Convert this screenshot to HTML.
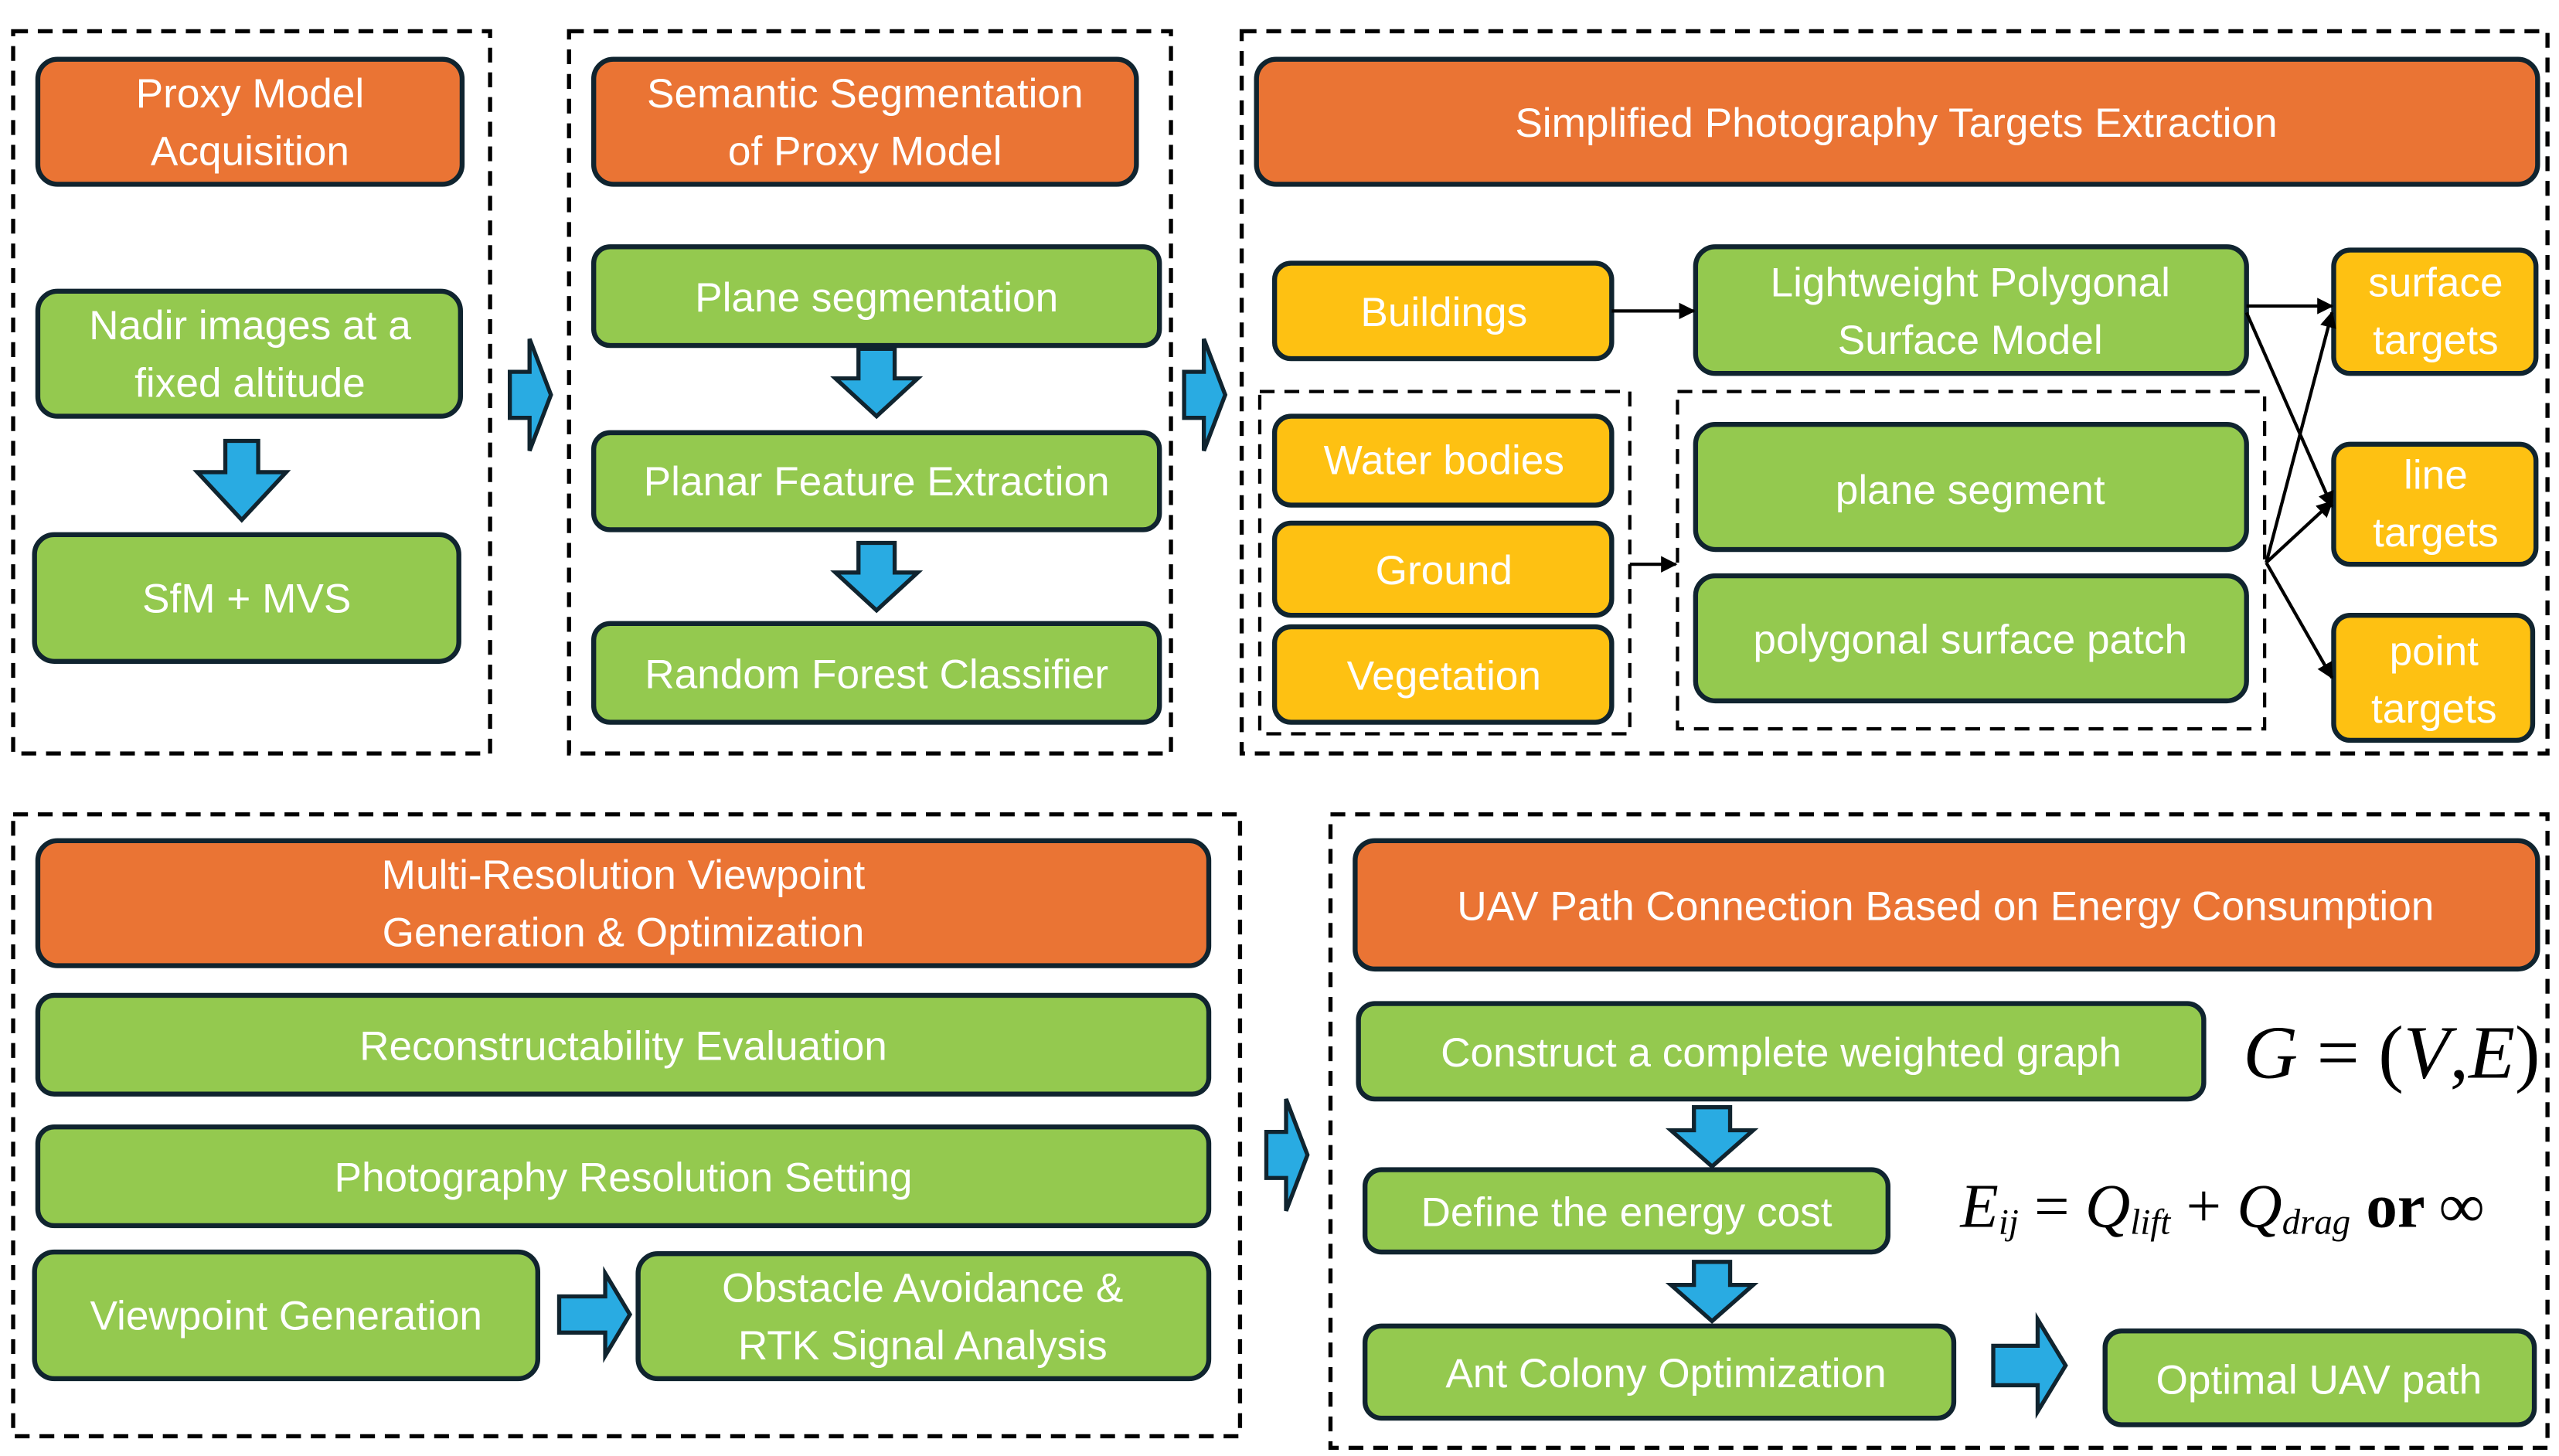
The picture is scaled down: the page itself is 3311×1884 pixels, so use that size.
<!DOCTYPE html>
<html><head><meta charset="utf-8"><style>
html,body{margin:0;padding:0;background:#fff;}
svg{display:block;}
text{font-family:"Liberation Sans",sans-serif;fill:#fff;font-size:25px;text-anchor:middle;dominant-baseline:central;}
.m{font-family:"Liberation Serif",serif;fill:#000;text-anchor:start;}
</style></head><body>
<svg width="3311" height="1884" viewBox="0 0 1556 885" preserveAspectRatio="none" xmlns="http://www.w3.org/2000/svg">
<defs>
<marker id="ah" viewBox="0 0 10 10" refX="9" refY="5" markerWidth="5" markerHeight="5" orient="auto"><path d="M0,0 L10,5 L0,10 z" fill="#000"/></marker>
</defs>
<g fill="none" stroke="#000" stroke-width="2.5" stroke-dasharray="9,6">
<rect x="8" y="19" width="290" height="439"/>
<rect x="346" y="19" width="366" height="439"/>
<rect x="755" y="19" width="794" height="439"/>
<rect x="766" y="238" width="225" height="208" stroke-width="2"/>
<rect x="1020" y="238" width="357" height="205" stroke-width="2"/>
<rect x="8" y="495" width="746" height="378"/>
<rect x="809" y="495" width="740" height="385"/>
</g>
<g stroke="#10242f" stroke-width="3">
<g fill="#EA7434">
<rect x="23" y="36" width="258" height="76" rx="12"/>
<rect x="361" y="36" width="330" height="76" rx="12"/>
<rect x="764" y="36" width="779" height="76" rx="12"/>
<rect x="23" y="511" width="712" height="76" rx="12"/>
<rect x="824" y="511" width="719" height="78" rx="12"/>
</g>
<g fill="#94C94F">
<rect x="23" y="177" width="257" height="76" rx="12"/>
<rect x="21" y="325" width="258" height="77" rx="12"/>
<rect x="361" y="150" width="344" height="60" rx="10"/>
<rect x="361" y="263" width="344" height="59" rx="10"/>
<rect x="361" y="379" width="344" height="60" rx="10"/>
<rect x="1031" y="150" width="335" height="77" rx="12"/>
<rect x="1031" y="258" width="335" height="76" rx="12"/>
<rect x="1031" y="350" width="335" height="76" rx="12"/>
<rect x="23" y="605" width="712" height="60" rx="10"/>
<rect x="23" y="685" width="712" height="60" rx="10"/>
<rect x="21" y="761" width="306" height="77" rx="12"/>
<rect x="388" y="762" width="347" height="76" rx="12"/>
<rect x="826" y="610" width="514" height="58" rx="10"/>
<rect x="830" y="711" width="318" height="50" rx="10"/>
<rect x="830" y="806" width="358" height="56" rx="10"/>
<rect x="1280" y="809" width="261" height="57" rx="10"/>
</g>
<g fill="#FEC112">
<rect x="775" y="160" width="205" height="58" rx="10"/>
<rect x="775" y="253" width="205" height="54" rx="10"/>
<rect x="775" y="318" width="205" height="56" rx="10"/>
<rect x="775" y="381" width="205" height="58" rx="10"/>
<rect x="1419" y="152" width="123" height="75" rx="10"/>
<rect x="1419" y="270" width="123" height="73" rx="10"/>
<rect x="1419" y="374" width="121" height="76" rx="10"/>
</g>
</g>
<g fill="#29ABE2" stroke="#10242f" stroke-width="2.5" stroke-linejoin="miter">
<path d="M137,268 h20 v19 h17 l-27,29 l-27,-29 h17 z"/>
<path d="M522,212 h22 v18 h14 l-25,23 l-25,-23 h14 z"/>
<path d="M522,330 h22 v18 h14 l-25,23 l-25,-23 h14 z"/>
<path d="M1030,673 h22 v14 h14 l-25,22 l-25,-22 h14 z"/>
<path d="M1030,767 h22 v14 h14 l-25,22 l-25,-22 h14 z"/>
<path d="M310,226 h12 v-20 l13,34 l-13,34 v-20 h-12 z"/>
<path d="M720,226 h12 v-20 l13,34 l-13,34 v-20 h-12 z"/>
<path d="M770,688 h12 v-20 l13,34 l-13,34 v-20 h-12 z"/>
<path d="M340,788 h28 v-14 l15,25 l-15,25 v-14 h-28 z"/>
<path d="M1212,818 h27 v-16 l17,28 l-17,28 v-16 h-27 z"/>
</g>
<g stroke="#000" stroke-width="2" fill="none" marker-end="url(#ah)">
<line x1="980" y1="189" x2="1030" y2="189"/>
<line x1="991" y1="343" x2="1019" y2="343"/>
<line x1="1366" y1="186" x2="1418" y2="186"/>
<line x1="1366" y1="190" x2="1418" y2="308"/>
<line x1="1378" y1="342" x2="1418" y2="190"/>
<line x1="1378" y1="342" x2="1418" y2="305"/>
<line x1="1378" y1="342" x2="1418" y2="412"/>
</g>
<text x="152" y="57">Proxy Model</text><text x="152" y="92">Acquisition</text>
<text x="152" y="198">Nadir images at a</text><text x="152" y="233">fixed altitude</text>
<text x="150" y="364">SfM + MVS</text>
<text x="526" y="57">Semantic Segmentation</text><text x="526" y="92">of Proxy Model</text>
<text x="533" y="181">Plane segmentation</text>
<text x="533" y="293">Planar Feature Extraction</text>
<text x="533" y="410">Random Forest Classifier</text>
<text x="1153" y="75">Simplified Photography Targets Extraction</text>
<text x="878" y="190">Buildings</text>
<text x="1198" y="172">Lightweight Polygonal</text><text x="1198" y="207">Surface Model</text>
<text x="878" y="280">Water bodies</text>
<text x="878" y="347">Ground</text>
<text x="878" y="411">Vegetation</text>
<text x="1198" y="298">plane segment</text>
<text x="1198" y="389">polygonal surface patch</text>
<text x="1481" y="172">surface</text><text x="1481" y="207">targets</text>
<text x="1481" y="289">line</text><text x="1481" y="324">targets</text>
<text x="1480" y="396">point</text><text x="1480" y="431">targets</text>
<text x="379" y="532">Multi-Resolution Viewpoint</text><text x="379" y="567">Generation &amp; Optimization</text>
<text x="379" y="636">Reconstructability Evaluation</text>
<text x="379" y="716">Photography Resolution Setting</text>
<text x="174" y="800">Viewpoint Generation</text>
<text x="561" y="783">Obstacle Avoidance &amp;</text><text x="561" y="818">RTK Signal Analysis</text>
<text x="1183" y="551">UAV Path Connection Based on Energy Consumption</text>
<text x="1083" y="640">Construct a complete weighted graph</text>
<text x="989" y="737">Define the energy cost</text>
<text x="1013" y="835">Ant Colony Optimization</text>
<text x="1410" y="839">Optimal UAV path</text>
<text class="m" x="1364" y="640" style="font-size:46px"><tspan font-style="italic">G</tspan> = (<tspan font-style="italic">V</tspan>,<tspan font-style="italic">E</tspan>)</text>
<text class="m" x="1192" y="733" style="font-size:38px"><tspan font-style="italic">E</tspan><tspan font-style="italic" style="font-size:22px" dy="10">ij</tspan><tspan dy="-10"> = </tspan><tspan font-style="italic">Q</tspan><tspan font-style="italic" style="font-size:22px" dy="10">lift</tspan><tspan dy="-10"> + </tspan><tspan font-style="italic">Q</tspan><tspan font-style="italic" style="font-size:22px" dy="10">drag</tspan><tspan dy="-10" font-weight="bold">  or  ∞</tspan></text>
</svg>
</body></html>
